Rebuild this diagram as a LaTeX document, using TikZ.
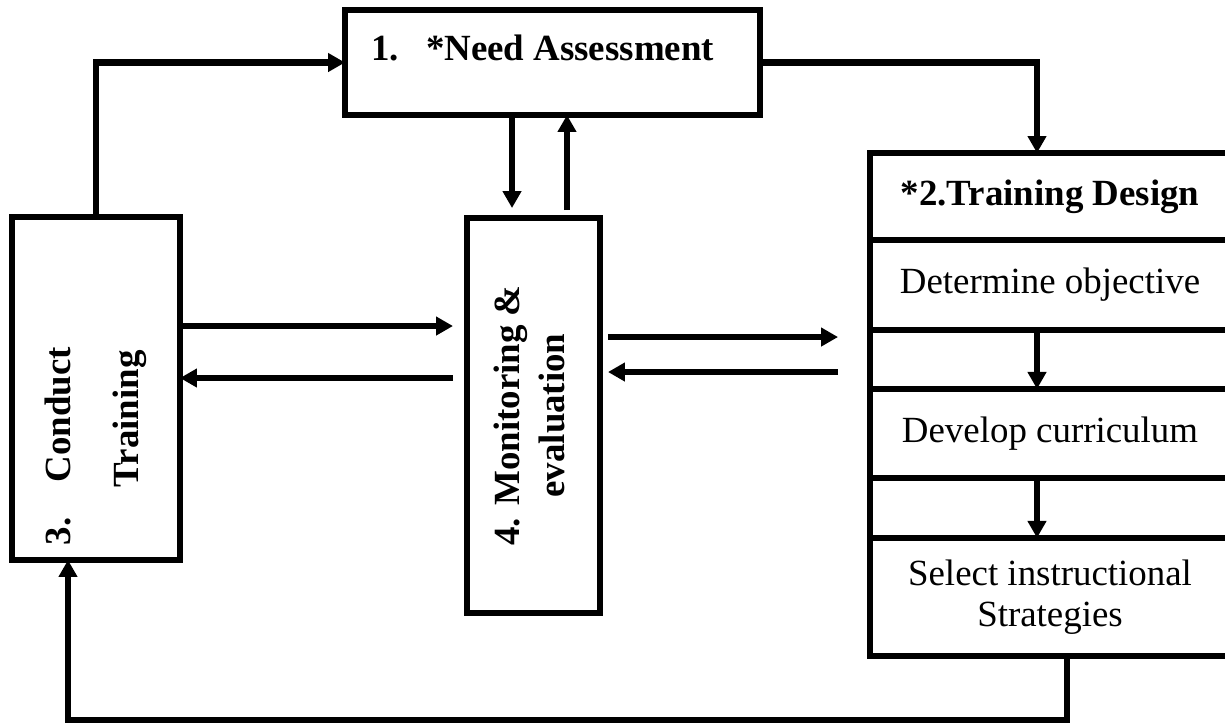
\documentclass[tikz,border=0pt]{standalone}
\usepackage{fontspec}
\setmainfont{Liberation Serif}
\usepackage{graphicx}
\usetikzlibrary{arrows.meta,positioning}

\begin{document}
\begin{tikzpicture}[x=0.02cm,y=-0.02cm,line width=3.6pt]
\tikzset{block/.style = {shape=rectangle,draw,outer sep=0pt,inner sep=0pt,font=\fontsize{21}{24}\selectfont\bfseries}}
\tikzset{cell/.style = {block,minimum width=7.2cm,align=center,font=\fontsize{21}{24}\selectfont}}
\tikzset{link/.style = {->,> = {Triangle[length=0.34cm,width=0.36cm]}}}
\useasboundingbox (0,0) rectangle (1225,725);
\clip (0,0) rectangle (1225,725);
% boxes
\node[block,minimum width=8.3cm,minimum height=2.1cm,text height=1cm,text depth=1.1cm] (need) at (552.5,62.5) {\makebox[1.1cm][l]{1.}*Need Assessment\hspace*{0.4cm}};
\node[block,minimum width=3.36cm,minimum height=6.86cm] (conduct) at (96,388.5)
  {\rotatebox{90}{\begin{tabular}{@{}l@{}}\makebox[1.26cm][l]{3.}Conduct\hspace*{2.3cm}\\[14.6pt]\hspace*{1.16cm}Training\end{tabular}}};
\node[block,minimum width=2.66cm,minimum height=7.9cm] (monitor) at (533.5,415.5)
  {\rotatebox{90}{\begin{tabular}{@{}c@{}}4. Monitoring \&\\[2pt]evaluation\end{tabular}}};
\node[cell,minimum height=1.74cm,font=\fontsize{21}{24}\selectfont\bfseries] (hdr) at (1050,196.5) {*2.Training Design};
\node[cell,minimum height=1.8cm,below=0pt of hdr] (obj) {Determine objective};
\node[cell,minimum height=1.18cm,below=0pt of obj] (gap1) {};
\node[cell,minimum height=1.78cm,below=0pt of gap1] (curr) {Develop curriculum};
\node[cell,minimum height=1.2cm,below=0pt of curr] (gap2) {};
\node[cell,minimum height=2.36cm,below=0pt of gap2] (strat) {Select instructional\\[-0.8pt]Strategies};
\coordinate (m1) at ([xshift=-0.43cm]monitor.north);
\coordinate (m2) at ([xshift=0.67cm]monitor.north);
\coordinate (low) at (0,720);
%arrows
\draw[link] (conduct.north) |- (need.west);
\draw[link] (need.east) -| ([xshift=-0.26cm]hdr.north);
\draw[link,shorten >=0.2cm] (m1 |- need.south) -- (m1);
\draw[link,shorten <=0.16cm] (m2) -- (m2 |- need.south);
\draw[link,shorten >=0.28cm] ([yshift=1.25cm]conduct.east) -- ([yshift=1.25cm]conduct.east -| monitor.west);
\draw[link,shorten <=0.28cm] ([yshift=0.21cm]conduct.east -| monitor.west) -- ([yshift=0.21cm]conduct.east);
\draw[link,shorten <=0.16cm,shorten >=0.64cm] ([yshift=1.57cm]monitor.east) -- ([yshift=1.57cm]monitor.east -| gap1.west);
\draw[link,shorten <=0.64cm,shorten >=0.16cm] ([yshift=0.87cm]monitor.east -| gap1.west) -- ([yshift=0.87cm]monitor.east);
\draw[link] ([xshift=-0.26cm]gap1.north) -- ([xshift=-0.26cm]gap1.south);
\draw[link] ([xshift=-0.26cm]gap2.north) -- ([xshift=-0.26cm]gap2.south);
\draw[link] ([xshift=0.34cm]strat.south) -- ([xshift=0.34cm]strat.south |- low) -| ([xshift=-0.56cm]conduct.south);
\end{tikzpicture}
\end{document}
